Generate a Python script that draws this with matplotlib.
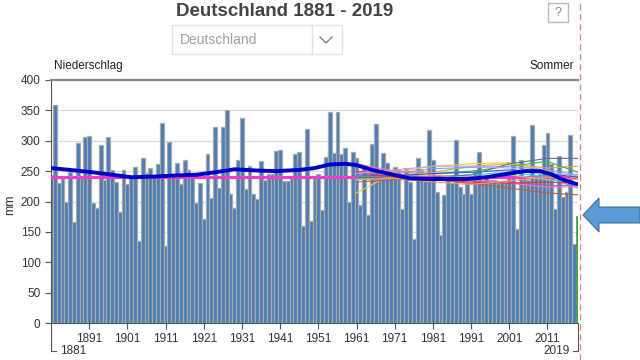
""" Summer precipitation in Germany 1881 - 2019 with trend line and projection runs. """

import numpy as np
import matplotlib.pyplot as plt
from matplotlib.lines import Line2D
from matplotlib.patches import Rectangle, Polygon

plt.rcParams['font.family'] = ['Liberation Sans', 'DejaVu Sans']

FIRST_YEAR = 1881
LAST_YEAR = 2019

# summer precipitation (mm), 1881 .. 2019
precip = [243, 359, 230, 238, 200, 248, 167, 296, 238, 306,
          308, 197, 189, 293, 235, 306, 252, 232, 183, 252,
          229, 240, 257, 135, 271, 247, 255, 240, 261, 330,
          126, 298, 240, 263, 228, 269, 252, 244, 197, 231,
          172, 278, 205, 323, 223, 323, 351, 212, 190, 269,
          338, 220, 259, 212, 204, 267, 235, 246, 245, 283,
          285, 233, 234, 238, 279, 281, 159, 320, 168, 238,
          245, 186, 274, 348, 280, 348, 278, 288, 199, 282,
          272, 194, 257, 177, 294, 328, 244, 280, 263, 244,
          257, 252, 187, 255, 232, 139, 271, 252, 233, 317,
          268, 215, 145, 211, 240, 230, 301, 224, 213, 230,
          212, 249, 282, 230, 238, 235, 235, 230, 233, 230,
          250, 308, 154, 268, 241, 235, 326, 238, 246, 293,
          312, 261, 188, 275, 208, 215, 309, 130, 176]

# smoothed trend (thick blue line)
trend_years = [1881, 1886, 1892, 1897, 1902, 1908, 1914, 1919, 1925, 1929,
               1935, 1940, 1946, 1950, 1954, 1958, 1961, 1965, 1970, 1975,
               1980, 1985, 1990, 1995, 2000, 2005, 2009, 2012, 2015, 2019]
trend_values = [255, 252, 248, 244, 240, 241, 243, 244, 249, 253,
                251, 250, 252, 255, 261, 262, 260, 252, 245, 238,
                237, 237, 237, 240, 245, 250, 250, 245, 236, 228]

mean_value = 240

# projection runs (thin coloured lines)
proj_years = [1961, 1971, 1981, 1991, 2001, 2011, 2019]
proj_yellow = [214, 248, 258, 262, 264, 250, 238]
proj_orange = [245, 250, 248, 258, 262, 255, 258]
proj_green = [240, 244, 246, 250, 258, 266, 248]
proj_lightgreen = [236, 240, 244, 240, 244, 236, 230]
proj_cyan = [238, 236, 238, 244, 248, 240, 222]
proj_lightblue = [242, 246, 254, 256, 258, 252, 244]
proj_blue = [244, 242, 246, 248, 252, 246, 240]
proj_purple = [250, 246, 238, 234, 232, 226, 227]
proj_slate = [240, 238, 240, 244, 262, 271, 271]
proj_pink = [262, 250, 244, 236, 230, 224, 224]
proj_red = [248, 240, 236, 232, 230, 232, 230]
proj_brown = [232, 236, 236, 230, 222, 214, 211]
proj_lavender = [246, 252, 258, 258, 255, 248, 242]
proj_salmon = [236, 238, 232, 228, 234, 240, 236]

decade_ticks = list(range(1891, 2012, 10))
y_ticks = list(range(0, 401, 50))

W, H = 640, 360


def fx(px):
    return px / W


def fy(py):
    return 1 - py / H


def main():
    fig = plt.figure(figsize=(6.4, 3.6), dpi=100)
    ax = fig.add_axes([fx(51), fy(323), fx(578) - fx(51), fy(80) - fy(323)])

    years = np.arange(FIRST_YEAR, FIRST_YEAR + len(precip))
    # all complete years in blue, the running year in green
    ax.bar(years[:-1], precip[:-1], width=1.0, color='#4a7db5', edgecolor='#a9a9a9', linewidth=0.9, zorder=2)
    ax.bar(years[-1:], precip[-1:], width=1.0, color='#3fa33f', edgecolor='#3fa33f', linewidth=0.5, zorder=2)

    ax.axhline(mean_value, color='#f03cc8', lw=2.2, zorder=3)

    projections = [(proj_yellow, '#f0d030'), (proj_orange, '#f5a030'), (proj_green, '#30c040'),
                   (proj_lightgreen, '#a0e070'), (proj_cyan, '#20c8e0'), (proj_lightblue, '#70a8ff'),
                   (proj_blue, '#3858d8'), (proj_purple, '#a060c0'), (proj_slate, '#6a6a90'),
                   (proj_pink, '#ff70b8'), (proj_red, '#e03838'), (proj_brown, '#b86040'),
                   (proj_lavender, '#c8a0f0'), (proj_salmon, '#ff9070')]
    for values, c in projections:
        ax.plot(proj_years, values, color=c, lw=0.8, zorder=4)

    ax.plot(trend_years, trend_values, color='#0000c8', lw=2.8, zorder=5, solid_capstyle='butt')

    ax.set_xlim(FIRST_YEAR, LAST_YEAR)
    ax.set_ylim(0, 400)
    ax.set_yticks(y_ticks)
    ax.set_xticks(decade_ticks)
    ax.tick_params(axis='both', labelsize=8.5, labelcolor='#333333', color='#555555', length=4, width=0.8)
    ax.tick_params(axis='x', pad=3)
    ax.grid(axis='y', color='#dcdcdc', lw=0.9, zorder=0)
    ax.set_axisbelow(True)
    ax.spines['right'].set_visible(False)
    ax.spines['top'].set_color('#8a8a8a')
    ax.spines['top'].set_linewidth(1.6)
    ax.spines['left'].set_color('#555555')
    ax.spines['bottom'].set_color('#555555')

    # texts above the plot
    fig.text(fx(285), fy(12), 'Deutschland 1881 - 2019', ha='center', va='center',
             fontsize=13.5, fontweight='bold', color='#444444')
    fig.text(fx(54), fy(66), 'Niederschlag', ha='left', va='center', fontsize=8.5, color='#222222')
    fig.text(fx(574), fy(66), 'Sommer', ha='right', va='center', fontsize=8.5, color='#222222')
    fig.text(fx(10), fy(205), 'mm', rotation=90, ha='center', va='center', fontsize=9, color='#333333')

    # dropdown box
    fig.patches.append(Rectangle((fx(172), fy(54)), fx(342) - fx(172), fy(25) - fy(54),
                                 transform=fig.transFigure, facecolor='white', edgecolor='#e4e4e4', lw=1))
    fig.lines.append(Line2D([fx(312), fx(312)], [fy(26), fy(53)], transform=fig.transFigure,
                            color='#e4e4e4', lw=1))
    fig.lines.append(Line2D([fx(320), fx(326), fx(332)], [fy(37), fy(43), fy(37)], transform=fig.transFigure,
                            color='#777777', lw=0.9))
    fig.text(fx(180), fy(40), 'Deutschland', ha='left', va='center', fontsize=10, color='#a0a0a0')

    # help box
    fig.patches.append(Rectangle((fx(548), fy(22)), fx(568) - fx(548), fy(3) - fy(22),
                                 transform=fig.transFigure, facecolor='white', edgecolor='#bbbbbb', lw=1))
    fig.text(fx(558), fy(12.5), '?', ha='center', va='center', fontsize=9, color='#888888')

    # first / last year labels
    fig.lines.append(Line2D([fx(51), fx(51), fx(56)], [fy(324), fy(351), fy(351)],
                            transform=fig.transFigure, color='#555555', lw=0.8))
    fig.text(fx(60), fy(351), '1881', ha='left', va='center', fontsize=8.5, color='#333333')
    fig.lines.append(Line2D([fx(578), fx(578), fx(573)], [fy(324), fy(351), fy(351)],
                            transform=fig.transFigure, color='#555555', lw=0.8))
    fig.text(fx(570), fy(351), '2019', ha='right', va='center', fontsize=8.5, color='#333333')

    # current year marker
    fig.lines.append(Line2D([fx(579.5), fx(579.5)], [0, 1], transform=fig.transFigure,
                            color='#ef8080', lw=0.9, ls=(0, (5, 3))))

    # arrow
    arrow = [(583, 215), (599, 198), (599, 207), (640, 207), (640, 223), (599, 223), (599, 232)]
    fig.patches.append(Polygon([(fx(x), fy(y)) for x, y in arrow], closed=True, transform=fig.transFigure,
                               facecolor='#5b9bd5', edgecolor='#41719c', lw=0.8))

    fig.savefig('out.png', dpi=100, facecolor='white')


if __name__ == "__main__":
    main()
